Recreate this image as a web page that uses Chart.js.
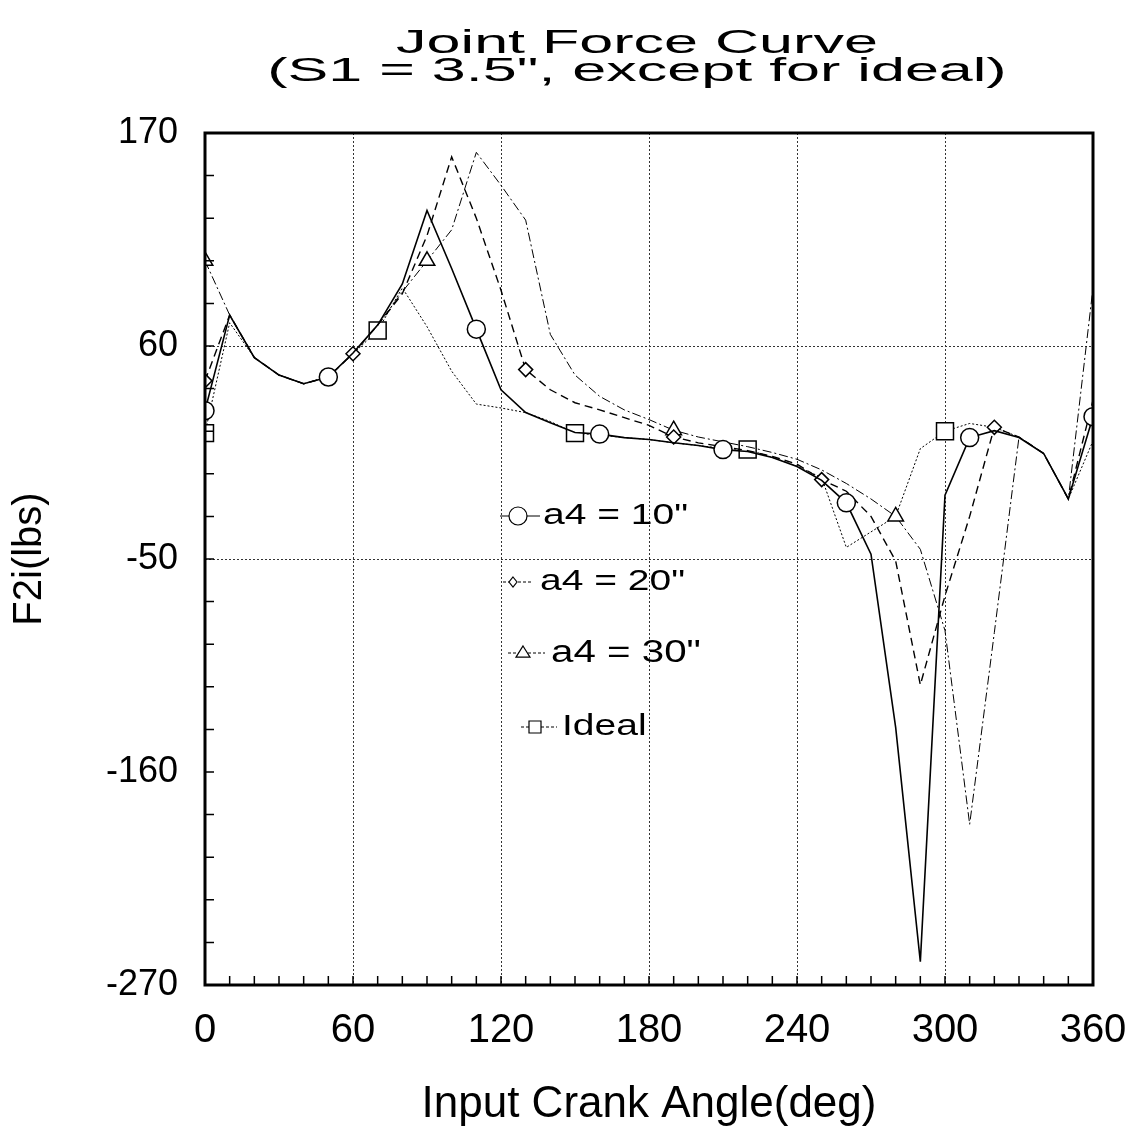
<!DOCTYPE html>
<html>
<head>
<meta charset="utf-8">
<script src="https://cdn.jsdelivr.net/npm/chart.js@4.4.1/dist/chart.umd.min.js"></script>
<style>
  body { margin: 0; background: #fff; }
  #wrap { position: relative; width: 1137px; height: 1134px; }
  #title {
    position: absolute; left: 0; top: 28px; width: 1274px;
    font-family: "Liberation Sans", Arial, sans-serif; font-size: 33px; line-height: 28px;
    color: #000; text-align: center;
  }
  #title div { transform: scaleX(1.85); transform-origin: 637px 0; }
</style>
</head>
<body>
<div id="wrap">
  <canvas id="myChart" width="1137" height="1134"></canvas>
  <div id="title">
    <div>Joint Force Curve</div>
    <div>(S1 = 3.5", except for ideal)</div>
  </div>
</div>
<script>
// data (deg, lbs)
const angles = [0, 10, 20, 30, 40, 50, 60, 70, 80, 90, 100, 110, 120, 130, 140, 150, 160, 170, 180,
                190, 200, 210, 220, 230, 240, 250, 260, 270, 280, 290, 300, 310, 320, 330, 340, 350, 360];

const a4_10 = [26.6, 76, 54, 45, 40.5, 44, 56.4, 70.8, 92, 130, 100, 68.7, 37.4, 25.6, 20.4, 15.3, 14.5, 12.7, 11.7,
               10, 8.6, 6.5, 5.5, 2.4, -2.2, -9.4, -21, -47.5, -137, -258, -17, 12.7, 16.3, 12.7, 4.5, -19, 23.5];
const a4_20 = [42, 76, 54, 45, 40.5, 44, 56, 70.8, 87, 117, 157.7, 126, 88.8, 47.8, 37.4, 30.7, 27, 23, 19,
               13, 10, 8, 6, 3, -1, -9, -15, -28, -51, -115, -69, -28, 18, 13, 4.5, -19, 32];
const a4_30 = [104, 76, 54, 45, 40.5, 44, 56, 70.8, 88, 104, 120, 160, 143, 125, 66, 45, 34, 27, 22,
               16.5, 13, 10.5, 8, 5, 1.5, -4, -11, -19, -28, -45, -87, -187, -88, 13, 4.5, -19, 90];
const ideal = [15, 72, 54, 45, 40.5, 44, 56, 68, 90, 70, 47, 30, 28, 25.6, 21, 15, 14, 12.7, 11.7,
               10, 8.6, 7, 6.5, 2.5, -2, -8, -44, -36, -28, 7, 16, 20, 18, 13, 4.5, -19, 11];

// angles where each curve shows its marker
const circleAt = [0, 50, 110, 160, 210, 260, 310, 360];
const diamondAt = [0, 60, 130, 190, 250, 320];
const triangleAt = [0, 90, 190, 280];
const squareAt = [0, 70, 150, 220, 300];

const xTicks = [0, 60, 120, 180, 240, 300, 360];
const yTicks = [-270, -160, -50, 60, 170];

const FONT = '"Liberation Sans", Arial, Helvetica, sans-serif';

function points(values) {
    return angles.map((a, i) => ({ x: a, y: values[i] }));
}

function markerRadius(list, r) {
    return (c) => list.includes(angles[c.dataIndex]) ? r : 0;
}

function series(label, values, dash, width, style, list, r) {
    return {
        label: label,
        data: points(values),
        borderColor: "#000",
        borderWidth: width,
        borderDash: dash,
        tension: 0,
        pointStyle: style,
        pointRadius: markerRadius(list, r),
        pointHoverRadius: 0,
        pointBackgroundColor: "#fff",
        pointBorderColor: "#000",
        pointBorderWidth: 1.5
    };
}

const datasets = [
    series('a4 = 10"', a4_10, [], 1.6, "circle", circleAt, 9),
    series('a4 = 20"', a4_20, [8, 5], 1.4, "rectRot", diamondAt, 7),
    series('a4 = 30"', a4_30, [9, 3, 2, 3], 1, "triangle", triangleAt, 9),
    series("Ideal", ideal, [2, 2], 1, "rect", squareAt, 12)
];

// in-plot legend rows (sample line, marker, text)
const legendRows = [
    { y: 516, x0: 500, x1: 540, mx: 518, tx: 543, shape: "circle", r: 9, size: 30 },
    { y: 582, x0: 503, x1: 532, mx: 513, tx: 540, shape: "diamond", r: 5, size: 30 },
    { y: 653, x0: 508, x1: 545, mx: 523, tx: 551, shape: "triangle", r: 7, size: 31 },
    { y: 727, x0: 521, x1: 557, mx: 535, tx: 562, shape: "square", r: 6, size: 30 }
];

function marker(ctx, shape, x, y, r) {
    ctx.beginPath();
    if (shape === "circle") {
        ctx.arc(x, y, r, 0, Math.PI * 2);
    } else if (shape === "diamond") {
        ctx.moveTo(x, y - r); ctx.lineTo(x + r * 0.8, y); ctx.lineTo(x, y + r); ctx.lineTo(x - r * 0.8, y); ctx.closePath();
    } else if (shape === "triangle") {
        ctx.moveTo(x, y - r); ctx.lineTo(x + r, y + r * 0.6); ctx.lineTo(x - r, y + r * 0.6); ctx.closePath();
    } else {
        ctx.rect(x - r, y - r, 2 * r, 2 * r);
    }
    ctx.fillStyle = "#fff";
    ctx.fill();
    ctx.stroke();
}

// frame, inner minor ticks and the legend
const decorations = {
    id: "decorations",
    afterDraw(chart) {
        const { ctx, chartArea: a, scales: { x, y } } = chart;
        ctx.save();
        ctx.strokeStyle = "#000";
        ctx.lineWidth = 1.5;
        ctx.beginPath();
        for (let v = 10; v < 360; v += 10) {
            const px = x.getPixelForValue(v);
            ctx.moveTo(px, a.bottom);
            ctx.lineTo(px, a.bottom - 9);
        }
        for (let v = -248; v < 170; v += 22) {
            const py = y.getPixelForValue(v);
            ctx.moveTo(a.left, py);
            ctx.lineTo(a.left + 9, py);
        }
        ctx.stroke();

        ctx.lineWidth = 3;
        ctx.strokeRect(a.left, a.top, a.right - a.left, a.bottom - a.top);

        legendRows.forEach((row, i) => {
            const ds = chart.data.datasets[i];
            ctx.lineWidth = 1;
            ctx.setLineDash(ds.borderDash.length ? [3, 2] : []);
            ctx.beginPath();
            ctx.moveTo(row.x0, row.y);
            ctx.lineTo(row.x1, row.y);
            ctx.stroke();
            ctx.setLineDash([]);
            ctx.lineWidth = 1.2;
            marker(ctx, row.shape, row.mx, row.y, row.r);

            ctx.save();
            ctx.translate(row.tx, row.y);
            ctx.scale(1.3, 1);
            ctx.fillStyle = "#000";
            ctx.font = row.size + "px " + FONT;
            ctx.textBaseline = "middle";
            ctx.fillText(ds.label, 0, 0);
            ctx.restore();
        });
        ctx.restore();
    }
};

const ctx = document.getElementById("myChart").getContext("2d");
new Chart(ctx, {
    type: "line",
    data: { datasets: datasets },
    plugins: [decorations],
    options: {
        responsive: false,
        animation: false,
        layout: { padding: { top: 133, right: 44, left: 0, bottom: 0 } },
        plugins: {
            legend: { display: false },
            tooltip: { enabled: false }
        },
        scales: {
            x: {
                type: "linear",
                min: 0,
                max: 360,
                afterBuildTicks: (scale) => { scale.ticks = xTicks.map(v => ({ value: v })); },
                afterFit: (scale) => {
                    scale.height = 149;
                    scale.paddingLeft = 0;
                    scale.paddingRight = 0;
                },
                ticks: {
                    color: "#000",
                    padding: 22,
                    font: { family: FONT, size: 40 }
                },
                grid: {
                    color: (c) => (c.tick && c.tick.value > 0 && c.tick.value < 360) ? "#333" : "rgba(0,0,0,0)",
                    lineWidth: 1,
                    drawTicks: false
                },
                border: { display: false, dash: [2, 2] },
                title: {
                    display: true,
                    text: "Input Crank Angle(deg)",
                    color: "#000",
                    font: { family: FONT, size: 44 },
                    padding: { top: 0, bottom: 3 }
                }
            },
            y: {
                min: -270,
                max: 170,
                afterBuildTicks: (scale) => { scale.ticks = yTicks.map(v => ({ value: v })); },
                afterFit: (scale) => {
                    scale.width = 205;
                    scale.paddingTop = 0;
                    scale.paddingBottom = 0;
                },
                ticks: {
                    color: "#000",
                    padding: 27,
                    font: { family: FONT, size: 36 }
                },
                grid: {
                    color: (c) => (c.tick && (c.tick.value === 60 || c.tick.value === -50)) ? "#333" : "rgba(0,0,0,0)",
                    lineWidth: 1,
                    drawTicks: false
                },
                border: { display: false, dash: [2, 2] },
                title: {
                    display: true,
                    text: "F2i(lbs)",
                    color: "#000",
                    font: { family: FONT, size: 40 },
                    padding: { top: 6, bottom: 0 }
                }
            }
        }
    }
});
</script>
</body>
</html>
